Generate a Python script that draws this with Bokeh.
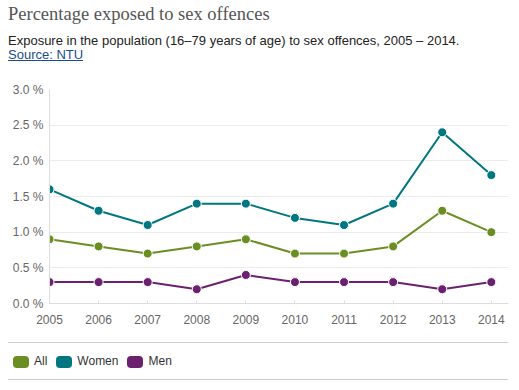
from bokeh.plotting import figure
from bokeh.models import Div, FixedTicker, CustomJSTickFormatter, Range1d
from bokeh.layouts import column
from bokeh.embed import file_html
from bokeh.resources import INLINE

years = [2005, 2006, 2007, 2008, 2009, 2010, 2011, 2012, 2013, 2014]
all_vals = [0.9, 0.8, 0.7, 0.8, 0.9, 0.7, 0.7, 0.8, 1.3, 1.0]
women_vals = [1.6, 1.3, 1.1, 1.4, 1.4, 1.2, 1.1, 1.4, 2.4, 1.8]
men_vals = [0.3, 0.3, 0.3, 0.2, 0.4, 0.3, 0.3, 0.3, 0.2, 0.3]
y_ticks = [0.0, 0.5, 1.0, 1.5, 2.0, 2.5, 3.0]
series_names = ["All", "Women", "Men"]
colors = ["#6b8e23", "#007681", "#6b2070"]

header = Div(text=(
    '<div style="font-family:\'Liberation Serif\',serif;font-size:18.5px;color:#555;line-height:20px;margin-top:-4px;">'
    'Percentage exposed to sex offences</div>'
    '<div style="font-family:\'Liberation Sans\',Arial,sans-serif;font-size:13px;color:#222;'
    'line-height:14px;margin-top:10px;">Exposure in the population (16–79 years of age) to sex offences, 2005 – 2014.'
    '<br><span style="color:#1a4e8a;text-decoration:underline;">Source: NTU</span></div>'),
    width=503, height=70, styles={"margin": "0"})

p = figure(width=503, height=255, output_backend="svg", toolbar_location=None,
           min_border_left=41, min_border_right=3, min_border_top=11, min_border_bottom=30,
           x_range=Range1d(2005, 2014.35), y_range=Range1d(0, 3.0))
p.outline_line_color = None
p.background_fill_color = "white"

for vals, c in zip([all_vals, women_vals, men_vals], colors):
    p.line(years, vals, line_color=c, line_width=2)
    p.scatter(years, vals, size=9, fill_color=c, line_color="white", line_width=1)

p.xaxis.ticker = FixedTicker(ticks=years)
p.yaxis.ticker = FixedTicker(ticks=y_ticks)
p.yaxis.formatter = CustomJSTickFormatter(code="return tick.toFixed(1) + ' %';")
p.xgrid.grid_line_color = None
p.ygrid.grid_line_color = "#ececec"
p.ygrid.grid_line_width = 1
for ax in [p.xaxis, p.yaxis]:
    ax.major_label_text_font = "Liberation Sans"
    ax.major_label_text_font_size = "12px"
    ax.major_label_text_color = "#666"
    ax.minor_tick_line_color = None
    ax.axis_line_color = "#dddddd"
p.xaxis.major_tick_line_color = "#dddddd"
p.xaxis.major_tick_in = 3
p.xaxis.major_tick_out = 0
p.xaxis.major_label_standoff = 11
p.yaxis.major_tick_line_color = None
p.yaxis.major_tick_in = 0
p.yaxis.major_tick_out = 0
p.yaxis.major_label_standoff = 6

items = ''.join(
    f'<span style="display:inline-block;width:16px;height:12px;border-radius:4px;background:{c};'
    f'vertical-align:middle;margin-right:5px;"></span>'
    f'<span style="vertical-align:middle;margin-right:9px;">{n}</span>'
    for n, c in zip(series_names, colors))
legend = Div(text=(
    '<div style="width:500px;border-top:1px solid #ccc;border-bottom:1px solid #ccc;height:38px;'
    'font-family:\'Liberation Sans\',Arial,sans-serif;font-size:12px;color:#333;'
    f'box-sizing:border-box;padding:10px 0 0 5px;margin-top:9px;">{items}</div>'),
    width=503, height=49, styles={"margin": "0"})

layout = column(header, p, legend, spacing=0, styles={"margin": "8px"})
open("out.html", "w").write(file_html(layout, INLINE))
